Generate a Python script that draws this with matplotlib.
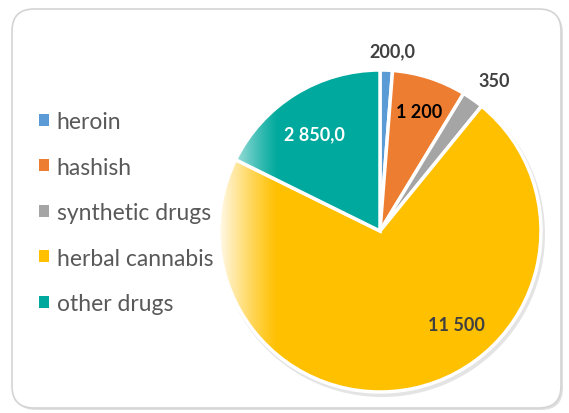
import numpy as np
import matplotlib
matplotlib.use("Agg")
import matplotlib.pyplot as plt
from matplotlib.patches import FancyBboxPatch, Circle

plt.rcParams['font.family'] = ['Lato', 'DejaVu Sans']

categories = ['heroin', 'hashish', 'synthetic drugs', 'herbal cannabis', 'other drugs']
values = [200, 1200, 350, 11500, 2850]
value_labels = ['200,0', '1 200', '350', '11 500', '2 850,0']
colors = ['#5B9BD5', '#ED7D31', '#A5A5A5', '#FFC000', '#00A99D']

W, H = 569, 414
fig = plt.figure(figsize=(W / 100, H / 100), dpi=100)
ax = fig.add_axes([0, 0, 1, 1])

# outer rounded frame
shadow = FancyBboxPatch((14, 3), 549, 399, boxstyle="round,pad=0,rounding_size=22",
                        fc='#e0e0e0', ec='none', zorder=0)
ax.add_patch(shadow)
frame = FancyBboxPatch((12, 5), 549, 399, boxstyle="round,pad=0,rounding_size=22",
                       fc='white', ec='#d4d4d4', lw=1.2, zorder=1)
ax.add_patch(frame)

cx, cy, r = 380, 182, 161

# pie shadow
ax.add_patch(Circle((cx + 2, cy - 3), r + 2, fc='#d9d9d9', ec='none', alpha=0.7, zorder=2))

wedges, _ = ax.pie(values, colors=colors, startangle=90, counterclock=False,
                   center=(cx, cy), radius=r, frame=True,
                   wedgeprops=dict(edgecolor='white', linewidth=2.5, zorder=3))
ax.set_xlim(0, W)
ax.set_ylim(0, H)
ax.set_aspect('equal')
ax.axis('off')

# white fade on the left side of the pie
grad = np.zeros((2, 256, 4))
grad[..., :3] = 1.0
grad[..., 3] = np.linspace(0.97, 0.0, 256) ** 1.2
im = ax.imshow(grad, extent=[cx - r - 2, cx - r + 60, cy - r, cy + r],
               aspect='auto', zorder=4, interpolation='bilinear')
clip = Circle((cx, cy), r - 1.2, transform=ax.transData)
im.set_clip_path(clip)

# data labels: (angle in degrees, radius factor)
label_pos = [(86.2, 1.12), (72.0, 0.78), (52.8, 1.17), (-50.7, 0.75), (123.8, 0.73)]
label_colors = ['#404040', '#000000', '#404040', '#404040', 'white']
for (ang, fr), txt, col in zip(label_pos, value_labels, label_colors):
    a = np.deg2rad(ang)
    ax.text(cx + fr * r * np.cos(a), cy + fr * r * np.sin(a), txt,
            ha='center', va='center', fontsize=13, fontweight='bold',
            color=col, zorder=6)

# legend
leg = ax.legend(wedges, categories, loc='upper left', bbox_to_anchor=(39 / W, 1 - 112 / H),
                bbox_transform=fig.transFigure, frameon=False, fontsize=16.5,
                labelcolor='#595959', handlelength=0.42, handleheight=0.42,
                handletextpad=0.35, labelspacing=1.07, borderaxespad=0, borderpad=0)
for h in leg.legend_handles:
    h.set_edgecolor('none')

fig.savefig('out.png', dpi=100)
